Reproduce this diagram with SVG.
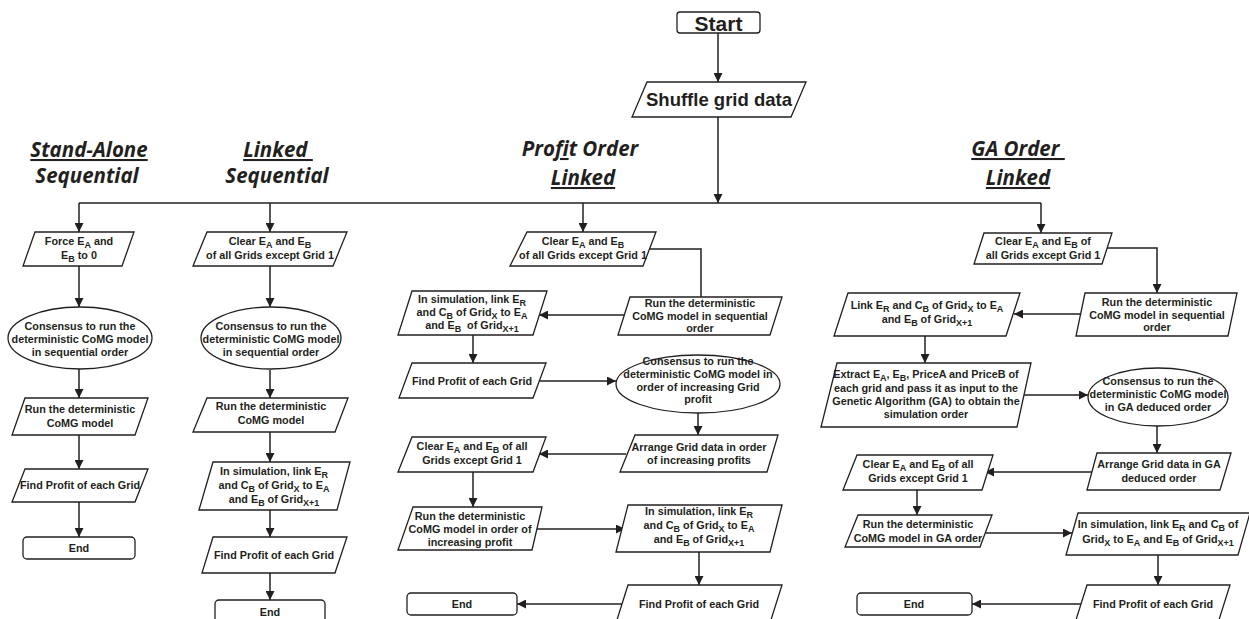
<svg xmlns="http://www.w3.org/2000/svg" width="1249" height="619" viewBox="0 0 1249 619">
<defs>
<marker id="ah" viewBox="0 0 10 10" refX="10" refY="5" markerWidth="9" markerHeight="9" markerUnits="userSpaceOnUse" orient="auto">
<path d="M0,0 L10,5 L0,10 Z" fill="#231f20"/>
</marker>
<style>
.b{fill:#fff;stroke:#231f20;stroke-width:1.3}
.t{font-family:"Liberation Sans",Arial,sans-serif;font-weight:bold;font-size:10.8px;fill:#231f20;text-anchor:middle}
.s{font-size:9px}
.h{font-family:"Open Sans","DejaVu Sans",sans-serif;font-weight:bold;font-style:italic;font-size:20.5px;fill:#231f20;text-anchor:middle}
.u{text-decoration:underline}
.c{fill:none;stroke:#231f20;stroke-width:1.5}
.a{marker-end:url(#ah)}
</style>
</defs>
<rect width="1249" height="619" fill="#fff"/>

<g id="titles">
<text class="h u" x="89" y="157">Stand-Alone</text>
<text class="h" x="87" y="183">Sequential</text>
<text class="h u" x="278" y="157" xml:space="preserve">Linked </text>
<text class="h" x="277" y="183">Sequential</text>
<text class="h" x="580" y="156">Pro<tspan class="u">f</tspan>it Order</text>
<text class="h u" x="583" y="185">Linked</text>
<text class="h u" x="1018" y="156" xml:space="preserve">GA Order </text>
<text class="h u" x="1018" y="185">Linked</text>
</g>

<g id="connectors">
<line class="c a" x1="718" y1="33" x2="718" y2="82"/>
<line class="c a" x1="718" y1="117" x2="718" y2="203"/>
<line class="c" x1="79" y1="203" x2="1041" y2="203"/>
<line class="c a" x1="79" y1="203" x2="79" y2="232"/>
<line class="c a" x1="270" y1="203" x2="270" y2="232"/>
<line class="c a" x1="583" y1="203" x2="583" y2="232"/>
<line class="c a" x1="1041" y1="203" x2="1041" y2="233"/>
<!-- col1 -->
<line class="c a" x1="79" y1="266" x2="79" y2="307"/>
<line class="c a" x1="79" y1="369" x2="79" y2="398"/>
<line class="c a" x1="79" y1="435" x2="79" y2="469"/>
<line class="c a" x1="79" y1="502" x2="79" y2="537"/>
<!-- col2 -->
<line class="c a" x1="270" y1="266" x2="270" y2="307"/>
<line class="c a" x1="270" y1="370" x2="270" y2="398"/>
<line class="c a" x1="270" y1="432" x2="270" y2="462"/>
<line class="c a" x1="270" y1="510" x2="270" y2="537"/>
<line class="c a" x1="270" y1="573" x2="270" y2="600"/>
<!-- col3 -->
<polyline class="c" points="649,249 701,249 701,297"/>
<line class="c a" x1="624" y1="315" x2="539" y2="315"/>
<line class="c a" x1="473" y1="335" x2="473" y2="363"/>
<line class="c a" x1="540" y1="381" x2="616" y2="381"/>
<line class="c a" x1="698" y1="413" x2="698" y2="435"/>
<line class="c a" x1="626" y1="454" x2="539" y2="454"/>
<line class="c a" x1="473" y1="472" x2="473" y2="507"/>
<line class="c a" x1="537" y1="529" x2="625" y2="529"/>
<line class="c a" x1="699" y1="552" x2="699" y2="585"/>
<line class="c a" x1="622" y1="604" x2="517" y2="604"/>
<!-- col4 -->
<polyline class="c a" points="1107,248 1157,248 1157,293"/>
<line class="c a" x1="1081" y1="314" x2="1014" y2="314"/>
<line class="c a" x1="925" y1="336" x2="925" y2="363"/>
<line class="c a" x1="1024" y1="395" x2="1088" y2="395"/>
<line class="c a" x1="1157" y1="426" x2="1157" y2="453"/>
<line class="c a" x1="1092" y1="472" x2="985" y2="472"/>
<line class="c a" x1="917" y1="490" x2="917" y2="515"/>
<line class="c a" x1="986" y1="533" x2="1072" y2="533"/>
<line class="c a" x1="1158" y1="555" x2="1158" y2="585"/>
<line class="c a" x1="1081" y1="604" x2="972" y2="604"/>
</g>

<g id="start">
<rect class="b" x="677" y="12" width="83" height="21" rx="3"/>
<text class="t" x="718.5" y="30.5" style="font-size:21px">Start</text>
</g>
<g id="shuffle">
<polygon class="b" points="647,82 806,82 791,117 632,117"/>
<text class="t" x="719" y="106" style="font-size:18.5px">Shuffle grid data</text>
</g>

<!-- Column 1 -->
<g id="c1_force">
<polygon class="b" points="35,232 134,232 122,266 23,266"/>
<text class="t" x="79" y="245">Force E<tspan class="s" dy="3">A</tspan><tspan dy="-3"> and</tspan></text>
<text class="t" x="79" y="259">E<tspan class="s" dy="3">B</tspan><tspan dy="-3"> to 0</tspan></text>
</g>
<g id="c1_consensus">
<ellipse class="b" cx="80" cy="338" rx="72" ry="31"/>
<text class="t" x="80" y="330">Consensus to run the</text>
<text class="t" x="80" y="343">deterministic CoMG model</text>
<text class="t" x="80" y="356">in sequential order</text>
</g>
<g id="c1_run">
<polygon class="b" points="25,398 148,398 135,435 12,435"/>
<text class="t" x="80" y="413">Run the deterministic</text>
<text class="t" x="80" y="427">CoMG model</text>
</g>
<g id="c1_find">
<polygon class="b" points="25,469 148,469 135,502 12,502"/>
<text class="t" x="80" y="489">Find Profit of each Grid</text>
</g>
<g id="c1_end">
<rect class="b" x="23" y="537" width="112" height="22" rx="4"/>
<text class="t" x="79" y="552">End</text>
</g>

<!-- Column 2 -->
<g id="c2_clear">
<polygon class="b" points="207,232 347,232 333,266 193,266"/>
<text class="t" x="270" y="245">Clear E<tspan class="s" dy="3">A</tspan><tspan dy="-3"> and E</tspan><tspan class="s" dy="3">B</tspan></text>
<text class="t" x="270" y="259">of all Grids except Grid 1</text>
</g>
<g id="c2_consensus">
<ellipse class="b" cx="271" cy="338" rx="70" ry="31"/>
<text class="t" x="271" y="330">Consensus to run the</text>
<text class="t" x="271" y="343">deterministic CoMG model</text>
<text class="t" x="271" y="356">in sequential order</text>
</g>
<g id="c2_run">
<polygon class="b" points="207,398 348,398 335,432 193,432"/>
<text class="t" x="271" y="410">Run the deterministic</text>
<text class="t" x="271" y="424">CoMG model</text>
</g>
<g id="c2_link">
<polygon class="b" points="213,462 350,462 337,510 199,510"/>
<text class="t" x="274" y="475">In simulation, link E<tspan class="s" dy="3">R</tspan></text>
<text class="t" x="274" y="489">and C<tspan class="s" dy="3">B</tspan><tspan dy="-3"> of Grid</tspan><tspan class="s" dy="3">X</tspan><tspan dy="-3"> to E</tspan><tspan class="s" dy="3">A</tspan></text>
<text class="t" x="274" y="503">and E<tspan class="s" dy="3">B</tspan><tspan dy="-3"> of Grid</tspan><tspan class="s" dy="3">X+1</tspan></text>
</g>
<g id="c2_find">
<polygon class="b" points="213,537 347,537 335,573 202,573"/>
<text class="t" x="274" y="559">Find Profit of each Grid</text>
</g>
<g id="c2_end">
<rect class="b" x="215" y="600" width="110" height="24" rx="4"/>
<text class="t" x="270" y="616">End</text>
</g>

<!-- Column 3 -->
<g id="c3_clear">
<polygon class="b" points="527,232 656,232 643,266 510,266"/>
<text class="t" x="583" y="245">Clear E<tspan class="s" dy="3">A</tspan><tspan dy="-3"> and E</tspan><tspan class="s" dy="3">B</tspan></text>
<text class="t" x="583" y="259">of all Grids except Grid 1</text>
</g>
<g id="c3_run">
<polygon class="b" points="630,297 782,297 770,335 618,335"/>
<text class="t" x="700" y="307">Run the deterministic</text>
<text class="t" x="700" y="319.5">CoMG model in sequential</text>
<text class="t" x="700" y="332">order</text>
</g>
<g id="c3_link">
<polygon class="b" points="412,291 547,291 533,335 398,335"/>
<text class="t" x="472" y="303">In simulation, link E<tspan class="s" dy="3">R</tspan></text>
<text class="t" x="472" y="316">and C<tspan class="s" dy="3">B</tspan><tspan dy="-3"> of Grid</tspan><tspan class="s" dy="3">X</tspan><tspan dy="-3"> to E</tspan><tspan class="s" dy="3">A</tspan></text>
<text class="t" x="472" y="329" xml:space="preserve">and E<tspan class="s" dy="3">B</tspan><tspan dy="-3">  of Grid</tspan><tspan class="s" dy="3">X+1</tspan></text>
</g>
<g id="c3_find">
<polygon class="b" points="412,363 546,363 533,398 399,398"/>
<text class="t" x="472" y="385">Find Profit of each Grid</text>
</g>
<g id="c3_consensus">
<ellipse class="b" cx="698" cy="384" rx="82" ry="29"/>
<text class="t" x="698" y="365">Consensus to run the</text>
<text class="t" x="698" y="378">deterministic CoMG model in</text>
<text class="t" x="698" y="391">order of increasing Grid</text>
<text class="t" x="698" y="403">profit</text>
</g>
<g id="c3_arrange">
<polygon class="b" points="635,435 778,435 767,472 620,472"/>
<text class="t" x="699" y="451">Arrange Grid data in order</text>
<text class="t" x="699" y="464">of increasing profits</text>
</g>
<g id="c3_clear2">
<polygon class="b" points="412,437 546,437 533,472 398,472"/>
<text class="t" x="472" y="450">Clear E<tspan class="s" dy="3">A</tspan><tspan dy="-3"> and E</tspan><tspan class="s" dy="3">B</tspan><tspan dy="-3"> of all</tspan></text>
<text class="t" x="472" y="464">Grids except Grid 1</text>
</g>
<g id="c3_run2">
<polygon class="b" points="413,507 542,507 532,550 398,550"/>
<text class="t" x="470" y="520">Run the deterministic</text>
<text class="t" x="470" y="533">CoMG model in order of</text>
<text class="t" x="470" y="546">increasing profit</text>
</g>
<g id="c3_link2">
<polygon class="b" points="628,505 782,505 770,552 616,552"/>
<text class="t" x="699" y="515">In simulation, link E<tspan class="s" dy="3">R</tspan></text>
<text class="t" x="699" y="529">and C<tspan class="s" dy="3">B</tspan><tspan dy="-3"> of Grid</tspan><tspan class="s" dy="3">X</tspan><tspan dy="-3"> to E</tspan><tspan class="s" dy="3">A</tspan></text>
<text class="t" x="699" y="543">and E<tspan class="s" dy="3">B</tspan><tspan dy="-3"> of Grid</tspan><tspan class="s" dy="3">X+1</tspan></text>
</g>
<g id="c3_find2">
<polygon class="b" points="628,585 782,585 770,623 616,623"/>
<text class="t" x="699" y="608">Find Profit of each Grid</text>
</g>
<g id="c3_end">
<rect class="b" x="407" y="593" width="110" height="22" rx="4"/>
<text class="t" x="462" y="608">End</text>
</g>

<!-- Column 4 -->
<g id="c4_clear">
<polygon class="b" points="984,233 1112,233 1102,264 974,264"/>
<text class="t" x="1043" y="245">Clear E<tspan class="s" dy="3">A</tspan><tspan dy="-3"> and E</tspan><tspan class="s" dy="3">B</tspan><tspan dy="-3"> of</tspan></text>
<text class="t" x="1043" y="259">all Grids except Grid 1</text>
</g>
<g id="c4_run">
<polygon class="b" points="1085,293 1237,293 1228,336 1076,336"/>
<text class="t" x="1157" y="306">Run the deterministic</text>
<text class="t" x="1157" y="318.5">CoMG model in sequential</text>
<text class="t" x="1157" y="331">order</text>
</g>
<g id="c4_link">
<polygon class="b" points="848,293 1020,293 1006,336 834,336"/>
<text class="t" x="927" y="309">Link E<tspan class="s" dy="3">R</tspan><tspan dy="-3"> and C</tspan><tspan class="s" dy="3">B</tspan><tspan dy="-3"> of Grid</tspan><tspan class="s" dy="3">X</tspan><tspan dy="-3"> to E</tspan><tspan class="s" dy="3">A</tspan></text>
<text class="t" x="927" y="323">and E<tspan class="s" dy="3">B</tspan><tspan dy="-3"> of Grid</tspan><tspan class="s" dy="3">X+1</tspan></text>
</g>
<g id="c4_extract">
<polygon class="b" points="837,363 1031,363 1017,427 821,427"/>
<text class="t" x="926" y="378">Extract E<tspan class="s" dy="3">A</tspan><tspan dy="-3">, E</tspan><tspan class="s" dy="3">B</tspan><tspan dy="-3">, PriceA and PriceB of</tspan></text>
<text class="t" x="926" y="391.5">each grid and pass it as input to the</text>
<text class="t" x="926" y="405">Genetic Algorithm (GA) to obtain the</text>
<text class="t" x="926" y="418">simulation order</text>
</g>
<g id="c4_consensus">
<ellipse class="b" cx="1158" cy="397" rx="70" ry="29"/>
<text class="t" x="1158" y="385">Consensus to run the</text>
<text class="t" x="1158" y="398">deterministic CoMG model</text>
<text class="t" x="1158" y="411">in GA deduced order</text>
</g>
<g id="c4_arrange">
<polygon class="b" points="1097,453 1231,453 1220,490 1087,490"/>
<text class="t" x="1159" y="468">Arrange Grid data in GA</text>
<text class="t" x="1159" y="482">deduced order</text>
</g>
<g id="c4_clear2">
<polygon class="b" points="857,455 993,455 982,490 843,490"/>
<text class="t" x="918" y="468">Clear E<tspan class="s" dy="3">A</tspan><tspan dy="-3"> and E</tspan><tspan class="s" dy="3">B</tspan><tspan dy="-3"> of all</tspan></text>
<text class="t" x="918" y="482">Grids except Grid 1</text>
</g>
<g id="c4_run2">
<polygon class="b" points="858,515 992,515 980,547 845,547"/>
<text class="t" x="918" y="528">Run the deterministic</text>
<text class="t" x="918" y="542">CoMG model in GA order</text>
</g>
<g id="c4_link2">
<polygon class="b" points="1078,513 1250,513 1238,555 1066,555"/>
<text class="t" x="1158" y="528">In simulation, link E<tspan class="s" dy="3">R</tspan><tspan dy="-3"> and C</tspan><tspan class="s" dy="3">B</tspan><tspan dy="-3"> of</tspan></text>
<text class="t" x="1158" y="543">Grid<tspan class="s" dy="3">X</tspan><tspan dy="-3"> to E</tspan><tspan class="s" dy="3">A</tspan><tspan dy="-3"> and E</tspan><tspan class="s" dy="3">B</tspan><tspan dy="-3"> of Grid</tspan><tspan class="s" dy="3">X+1</tspan></text>
</g>
<g id="c4_find2">
<polygon class="b" points="1087,585 1230,585 1218,623 1075,623"/>
<text class="t" x="1153" y="608">Find Profit of each Grid</text>
</g>
<g id="c4_end">
<rect class="b" x="857" y="593" width="115" height="22" rx="4"/>
<text class="t" x="914" y="608">End</text>
</g>
</svg>
